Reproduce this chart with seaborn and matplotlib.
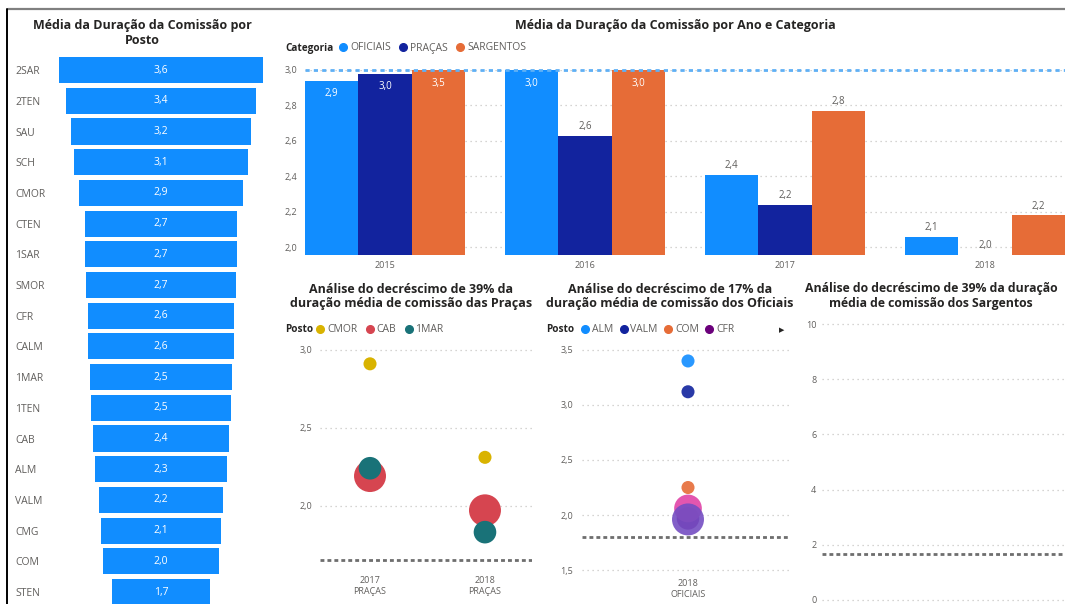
import numpy as np
import pandas as pd
import matplotlib
matplotlib.use("Agg")
import matplotlib.pyplot as plt
from matplotlib.lines import Line2D
from matplotlib.ticker import FuncFormatter
import seaborn as sns

# ---------------- data ----------------
postos = ["2SAR", "2TEN", "SAU", "SCH", "CMOR", "CTEN", "1SAR", "SMOR", "CFR",
          "CALM", "1MAR", "1TEN", "CAB", "ALM", "VALM", "CMG", "COM", "STEN"]
duracao_posto = [3.60, 3.37, 3.19, 3.09, 2.89, 2.71, 2.70, 2.66, 2.59,
                 2.57, 2.50, 2.48, 2.41, 2.34, 2.20, 2.13, 2.04, 1.74]

anos = ["2015", "2016", "2017", "2018"]
categorias = ["OFICIAIS", "PRAÇAS", "SARGENTOS"]
dur_oficiais = [2.94, 3.00, 2.41, 2.06]
dur_pracas = [2.98, 2.63, 2.24, 1.955]
dur_sargentos = [3.50, 3.04, 2.77, 2.18]
linha_media_ano = 3.0

pr_ano = ["2017\nPRAÇAS"] * 3 + ["2018\nPRAÇAS"] * 3
pr_posto = ["CMOR", "CAB", "1MAR"] * 2
pr_duracao = [2.91, 2.19, 2.24, 2.31, 1.97, 1.83]
pr_qtd = [1, 6, 3, 1, 6, 3]
pr_linha = 1.65

of_ano = ["2018\nOFICIAIS"] * 6
of_posto = ["ALM", "VALM", "COM", "CFR", "CMG", "CALM"]
of_duracao = [3.40, 3.12, 2.25, 1.97, 2.06, 1.96]
of_qtd = [1, 1, 1, 3, 4.5, 6]
of_linha = 1.80

sg_linha = 1.67

# ---------------- style ----------------
W, H = 1065, 604
AZUL = "#118DFF"
cores_cat = {"OFICIAIS": "#118DFF", "PRAÇAS": "#12239E", "SARGENTOS": "#E66C37"}
cores_pr = {"CMOR": "#D9B300", "CAB": "#D64550", "1MAR": "#197278"}
cores_of = {"ALM": "#118DFF", "VALM": "#12239E", "COM": "#E66C37",
            "CFR": "#6B007B", "CMG": "#E044A7", "CALM": "#744EC2"}
CINZA = "#605E5C"
TITULO = "#252423"
GRADE = "#C8C6C4"
T_TIT = 9

sns.set_theme(style="white")
plt.rcParams["font.family"] = ["Open Sans", "DejaVu Sans"]
NEGRITO = dict(family=["Open Sans", "DejaVu Sans"], fontweight="bold")

fig = plt.figure(figsize=(W / 100, H / 100), dpi=100)
fig.patch.set_facecolor("white")


def px_rect(l, t, r, b):
    return [l / W, 1 - b / H, (r - l) / W, (b - t) / H]


def fx(x):
    return x / W


def fy(y):
    return 1 - y / H


def virgula(v, casas=1):
    return f"{v:.{casas}f}".replace(".", ",")


def limpar(ax):
    for s in ax.spines.values():
        s.set_visible(False)
    ax.set_xlabel("")
    ax.set_ylabel("")


def grade(ax):
    ax.set_axisbelow(True)
    ax.yaxis.grid(True, color=GRADE, ls=(0, (1, 3)), lw=0.9)
    ax.xaxis.grid(False)


def linha_tracejada(ax, v):
    ax.axhline(v, color="#6E6E6E", lw=2, ls=(0, (1.4, 1.1)), zorder=1)


# outer frame
fig.add_artist(Line2D([fx(8), 1], [fy(9), fy(9)], color="#808080", lw=1.6,
                      transform=fig.transFigure))
fig.add_artist(Line2D([fx(7), fx(7)], [0, fy(9)], color="black", lw=1.4,
                      transform=fig.transFigure))

# ---------------- funnel by posto ----------------
ax1 = fig.add_axes(px_rect(47, 52, 275, 604))
df_f = pd.DataFrame({"posto": postos, "dur": duracao_posto})
df_f["dir"] = df_f["dur"] / 2
df_f["esq"] = -df_f["dur"] / 2
for col in ["dir", "esq"]:
    sns.barplot(data=df_f, y="posto", x=col, orient="h", color=AZUL,
                saturation=1, width=0.85, linewidth=0, errorbar=None, ax=ax1)
for i, v in enumerate(duracao_posto):
    ax1.text(0, i, virgula(v), color="white", ha="center", va="center",
             fontsize=7.5)
ax1.set_xlim(-2.02, 2.02)
ax1.set_ylim(17.39, -0.59)
ax1.set_xticks([])
ax1.tick_params(axis="y", length=0, pad=23, labelsize=7.5, labelcolor=CINZA)
for lbl in ax1.get_yticklabels():
    lbl.set_ha("left")
limpar(ax1)
fig.text(fx(142), fy(33), "Média da Duração da Comissão por\nPosto",
         ha="center", va="center", fontsize=T_TIT, color=TITULO,
         linespacing=1.15, **NEGRITO)

# ---------------- bars by year and category ----------------
ax2 = fig.add_axes(px_rect(305, 70, 1065, 255))
df_b = pd.DataFrame({
    "ano": anos * 3,
    "categoria": np.repeat(categorias, len(anos)),
    "dur": dur_oficiais + dur_pracas + dur_sargentos,
})
sns.barplot(data=df_b, x="ano", y="dur", hue="categoria", hue_order=categorias,
            palette=cores_cat, saturation=1, width=0.8, linewidth=0,
            errorbar=None, legend=False, ax=ax2)
ax2.set_ylim(1.956, 3.0)
ax2.set_xlim(-0.4, 3.4)
ax2.set_yticks([2.0, 2.2, 2.4, 2.6, 2.8, 3.0])
ax2.yaxis.set_major_formatter(FuncFormatter(lambda v, _: virgula(v)))
grade(ax2)
ax2.axhline(linha_media_ano, color="#5FB0F5", lw=2, ls=(0, (1.5, 1.5)),
            clip_on=False, zorder=5)
ax2.tick_params(axis="y", length=0, pad=5.5, labelsize=6.5, labelcolor=CINZA)
ax2.tick_params(axis="x", length=0, pad=4, labelsize=6.5, labelcolor=CINZA)
base, topo = ax2.get_ylim()
for cont in ax2.containers:
    for bar in cont:
        v = bar.get_height()
        x = bar.get_x() + bar.get_width() / 2
        if v > 2.85:
            ax2.annotate(virgula(v), (x, min(v, topo)), xytext=(0, -9.5),
                         textcoords="offset points", ha="center", va="center",
                         color="white", fontsize=7, zorder=6)
        else:
            ax2.annotate(virgula(v), (x, max(v, base)),
                         xytext=(0, 6.5), textcoords="offset points",
                         ha="center", va="center", color=CINZA, fontsize=7,
                         zorder=6)
limpar(ax2)
fig.text(fx(675), fy(25), "Média da Duração da Comissão por Ano e Categoria",
         ha="center", va="center", fontsize=T_TIT, color=TITULO, **NEGRITO)


def legenda(titulo, x_titulo, x_itens, y, nomes, cores, espaco=0.9):
    fig.text(fx(x_titulo), fy(y), titulo, ha="left", va="center",
             fontsize=7.2, color=TITULO, **NEGRITO)
    hs = [Line2D([], [], marker="o", ls="none", color=cores[n],
                 markersize=5.5) for n in nomes]
    fig.legend(hs, nomes, loc="center left", bbox_to_anchor=(fx(x_itens), fy(y)),
               ncol=len(nomes), frameon=False, fontsize=7.5, labelcolor=CINZA,
               handletextpad=0.25, columnspacing=espaco, handlelength=0.8,
               borderaxespad=0, borderpad=0)


legenda("Categoria", 285, 339, 48, categorias, cores_cat, espaco=0.8)

# ---------------- Praças scatter ----------------
ax3 = fig.add_axes(px_rect(320, 342, 532, 568))
df_p = pd.DataFrame({"ano": pr_ano, "posto": pr_posto, "dur": pr_duracao,
                     "qtd": pr_qtd})
sns.scatterplot(data=df_p, x="ano", y="dur", hue="posto", palette=cores_pr,
                size="qtd", sizes=(0, 530), size_norm=(0, 6), linewidth=0,
                alpha=1, legend=False, ax=ax3)
linha_tracejada(ax3, pr_linha)
ax3.set_ylim(1.6, 3.05)
ax3.set_xlim(-0.435, 1.409)
ax3.set_yticks([2.0, 2.5, 3.0])
ax3.yaxis.set_major_formatter(FuncFormatter(lambda v, _: virgula(v)))
grade(ax3)
ax3.tick_params(axis="y", length=0, pad=5.5, labelsize=6.5, labelcolor=CINZA)
ax3.tick_params(axis="x", length=0, pad=6, labelsize=6.5, labelcolor=CINZA)
limpar(ax3)
fig.text(fx(411), fy(296),
         "Análise do decréscimo de 39% da\nduração média de comissão das Praças",
         ha="center", va="center", fontsize=T_TIT, color=TITULO,
         linespacing=1.1, **NEGRITO)
legenda("Posto", 285, 316, 330, list(cores_pr), cores_pr, espaco=0.8)

# ---------------- Oficiais scatter ----------------
ax4 = fig.add_axes(px_rect(582, 345, 790, 575))
df_o = pd.DataFrame({"ano": of_ano, "posto": of_posto, "dur": of_duracao,
                     "qtd": of_qtd})
sns.scatterplot(data=df_o, x="ano", y="dur", hue="posto", palette=cores_of,
                size="qtd", sizes=(0, 530), size_norm=(0, 6), linewidth=0,
                alpha=0.9, legend=False, ax=ax4)
linha_tracejada(ax4, of_linha)
ax4.set_ylim(1.455, 3.545)
ax4.set_xlim(-0.981, 0.944)
ax4.set_yticks([1.5, 2.0, 2.5, 3.0, 3.5])
ax4.yaxis.set_major_formatter(FuncFormatter(lambda v, _: virgula(v)))
grade(ax4)
ax4.tick_params(axis="y", length=0, pad=6.5, labelsize=6.5, labelcolor=CINZA)
ax4.tick_params(axis="x", length=0, pad=3, labelsize=6.5, labelcolor=CINZA)
limpar(ax4)
fig.text(fx(670), fy(296),
         "Análise do decréscimo de 17% da\nduração média de comissão dos Oficiais",
         ha="center", va="center", fontsize=T_TIT, color=TITULO,
         linespacing=1.1, **NEGRITO)
legenda("Posto", 546, 581, 330, of_posto[:4], cores_of, espaco=0.6)
fig.text(fx(782), fy(330), "▶", ha="center", va="center", fontsize=5,
         color=TITULO, family="DejaVu Sans")

# ---------------- Sargentos (no points) ----------------
ax5 = fig.add_axes(px_rect(822, 320, 1065, 604))
linha_tracejada(ax5, sg_linha)
ax5.set_ylim(-0.145, 10.145)
ax5.set_xlim(0, 1)
ax5.set_yticks([0, 2, 4, 6, 8, 10])
ax5.set_xticks([])
grade(ax5)
ax5.tick_params(axis="y", length=0, pad=4, labelsize=6.5, labelcolor=CINZA)
limpar(ax5)
fig.text(fx(931), fy(296),
         "Análise do decréscimo de 39% da duração\nmédia de comissão dos Sargentos",
         ha="center", va="center", fontsize=8.8, color=TITULO,
         linespacing=1.12, **NEGRITO)

fig.savefig("out.png", dpi=100, facecolor="white")
